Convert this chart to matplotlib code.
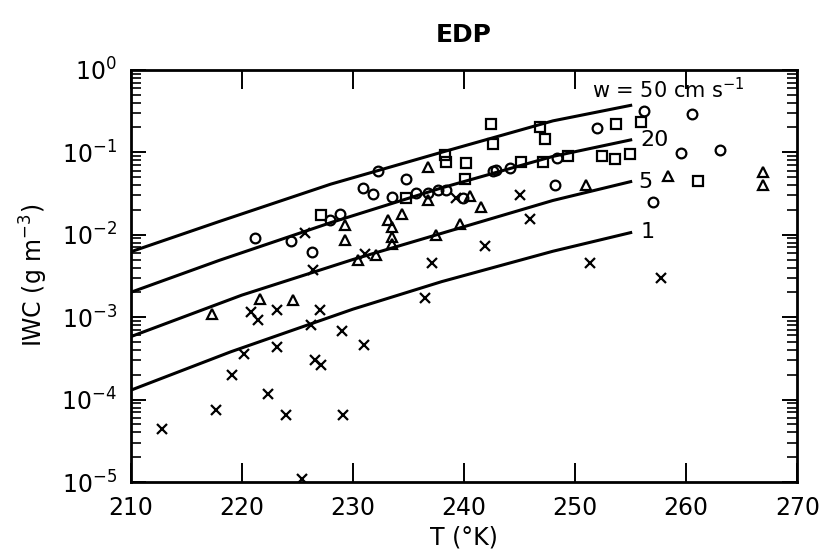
import matplotlib
matplotlib.use("Agg")
import matplotlib.pyplot as plt
from matplotlib.ticker import LogLocator, NullFormatter, FixedLocator

# model curves (T in K, IWC in g m^-3)
t_50 = [210, 218, 228, 238, 248, 255]
iwc_50 = [6.2e-3, 1.45e-2, 4.1e-2, 0.10, 0.24, 0.37]
t_20 = [210, 218, 228, 238, 248, 255]
iwc_20 = [2.0e-3, 4.9e-3, 1.4e-2, 3.7e-2, 0.089, 0.141]
t_5 = [210, 220, 230, 240, 248, 255]
iwc_5 = [5.8e-4, 1.85e-3, 5.0e-3, 1.25e-2, 2.6e-2, 0.044]
t_1 = [210, 219, 230, 238, 248, 255]
iwc_1 = [1.3e-4, 3.8e-4, 1.25e-3, 2.7e-3, 6.3e-3, 1.06e-2]

# observations
circ_t = [221.2, 224.4, 226.3, 227.9, 228.8, 232.3, 234.8, 230.9, 231.8, 233.5,
          235.7, 236.8, 237.7, 238.4, 239.9, 242.6, 242.9, 244.1, 256.2, 260.5,
          252.0, 248.4, 259.5, 263.0, 257.0, 248.2]
circ_v = [9.2e-3, 8.4e-3, 6.1e-3, 1.51e-2, 1.79e-2, 0.059, 0.048, 0.037, 0.031, 0.029,
          0.0318, 0.032, 0.035, 0.035, 0.0277, 0.059, 0.061, 0.064, 0.312, 0.29,
          0.196, 0.085, 0.098, 0.105, 0.025, 0.040]

sq_t = [227.1, 242.4, 242.6, 246.8, 247.3, 238.3, 238.4, 240.2, 234.8, 240.1,
        245.1, 247.1, 255.9, 253.7, 249.4, 252.4, 253.6, 254.9, 261.1]
sq_v = [1.74e-2, 0.219, 0.126, 0.205, 0.146, 0.093, 0.077, 0.075, 0.0277, 0.048,
        0.076, 0.076, 0.23, 0.219, 0.091, 0.089, 0.083, 0.095, 0.045]

tri_t = [229.3, 229.3, 236.8, 236.8, 240.5, 241.5, 234.4, 233.2, 233.5, 233.5,
         233.5, 237.5, 239.6, 232.1, 230.5, 258.4, 266.9, 266.9, 251.0, 217.3,
         221.6, 224.6]
tri_v = [1.3e-2, 8.7e-3, 0.066, 0.026, 0.0296, 0.0219, 0.018, 0.015, 0.0125, 9.5e-3,
         7.7e-3, 0.010, 0.0134, 5.7e-3, 5.0e-3, 0.052, 0.057, 0.040, 0.040, 1.09e-3,
         1.65e-3, 1.62e-3]

x_t = [225.7, 239.3, 245.0, 245.9, 241.9, 231.1, 220.8, 221.5, 223.2, 226.4,
       227.0, 226.2, 229.0, 220.2, 223.2, 226.6, 227.1, 219.1, 222.4, 217.7,
       224.0, 229.1, 212.8, 225.4, 237.1, 236.5, 231.0, 251.3, 257.7]
x_v = [1.04e-2, 0.0277, 0.030, 0.0154, 7.3e-3, 5.8e-3, 1.17e-3, 9.2e-4, 1.22e-3, 3.7e-3,
       1.22e-3, 8.0e-4, 6.8e-4, 3.6e-4, 4.4e-4, 3.0e-4, 2.6e-4, 2.0e-4, 1.16e-4, 7.5e-5,
       6.6e-5, 6.6e-5, 4.4e-5, 1.08e-5, 4.6e-3, 1.7e-3, 4.6e-4, 4.6e-3, 3.0e-3]

fig = plt.figure(figsize=(8.22, 5.58), dpi=100)
ax = fig.add_axes([0.159, 0.136, 0.811, 0.739])

for t, v in [(t_50, iwc_50), (t_20, iwc_20), (t_5, iwc_5), (t_1, iwc_1)]:
    ax.plot(t, v, color="black", lw=2.2)

mk = dict(linestyle="none", markerfacecolor="none", markeredgecolor="black",
          markeredgewidth=1.6, color="black")
ax.plot(circ_t, circ_v, marker="o", markersize=7, **mk)
ax.plot(sq_t, sq_v, marker="s", markersize=7, **mk)
ax.plot(tri_t, tri_v, marker="^", markersize=7, **mk)
ax.plot(x_t, x_v, marker="x", markersize=7, **mk)

ax.set_yscale("log")
ax.set_xlim(210, 270)
ax.set_ylim(1e-5, 1)
ax.xaxis.set_major_locator(FixedLocator([210, 220, 230, 240, 250, 260, 270]))
ax.yaxis.set_major_locator(LogLocator(base=10, numticks=10))
ax.yaxis.set_minor_locator(LogLocator(base=10, subs=range(2, 10), numticks=20))
ax.yaxis.set_minor_formatter(NullFormatter())

ax.tick_params(axis="x", which="major", direction="in", length=14, width=1.4,
               top=True, labelsize=17, pad=10)
ax.tick_params(axis="y", which="major", direction="in", length=11, width=1.4,
               right=True, labelsize=17, pad=10)
ax.tick_params(axis="y", which="minor", direction="in", length=7, width=1.2,
               right=True)
for s in ax.spines.values():
    s.set_linewidth(2.0)

ax.text(251.5, 0.57, "w = 50 cm s$^{-1}$", fontsize=15, va="center", ha="left")
ax.text(255.9, 0.141, "20", fontsize=16, va="center", ha="left")
ax.text(255.7, 0.044, "5", fontsize=16, va="center", ha="left")
ax.text(255.9, 0.0108, "1", fontsize=16, va="center", ha="left")

ax.set_title("EDP", fontsize=18, fontweight="bold", pad=20)
ax.set_xlabel("T (°K)", fontsize=17, labelpad=4)
ax.set_ylabel("IWC (g m$^{-3}$)", fontsize=17, labelpad=8)

fig.savefig("out.png", dpi=100)
